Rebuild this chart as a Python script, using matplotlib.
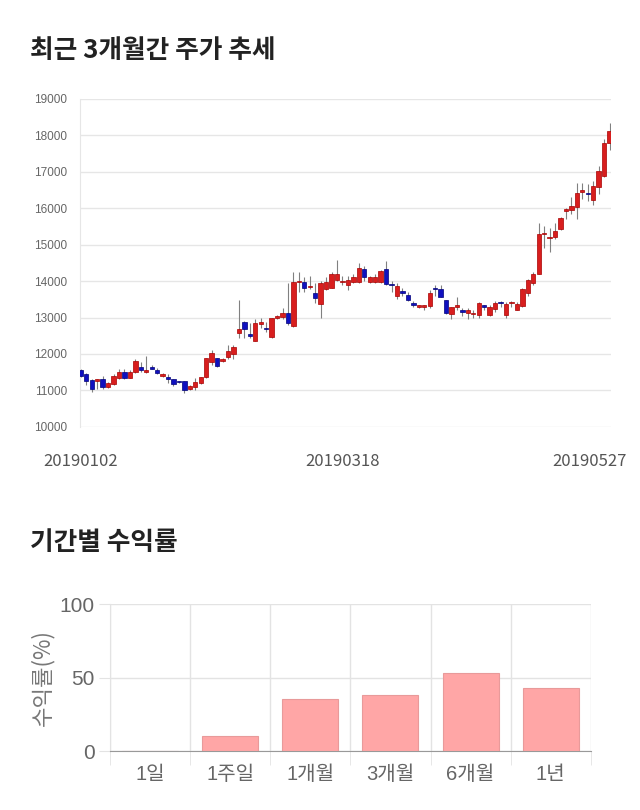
import matplotlib
matplotlib.use("Agg")
import matplotlib.pyplot as plt
import matplotlib.transforms as mtransforms
import numpy as np

plt.rcParams['font.family'] = ['Noto Sans CJK KR', 'DejaVu Sans']
ARIAL = ['Liberation Sans', 'Noto Sans CJK KR']

# candle data (open / high / low / close), 2019-01-02 .. 2019-05-27
opens = [11550, 11450, 11280, 11250, 11300, 11100, 11180, 11350, 11500, 11350,
         11500, 11650, 11500, 11650, 11550, 11400, 11380, 11300, 11260, 11250,
         11040, 11100, 11200, 11370, 11780, 11890, 11800, 11920, 12000, 12580,
         12880, 12550, 12360, 12830, 12720, 12470, 12990, 13020, 13130,
         12770, 13970, 13980, 13840, 13680, 13380, 13790, 13810, 14030, 13980,
         13900, 13980, 13980, 14330, 13980, 13980, 13980, 14330, 13920,
         13600, 13730, 13620, 13400, 13290, 13290, 13320, 13810, 13780, 13480,
         13100, 13300, 13210, 13130, 13100, 13070, 13330, 13070, 13230, 13420,
         13070, 13400, 13210, 13320, 13680, 13950, 14200, 15300, 15190, 15220,
         15430, 15930, 15950, 16040, 16450, 16420, 16230, 16590, 16890, 17790]
highs = [11600, 11480, 11300, 11320, 11400, 11220, 11450, 11600, 11600, 11560,
         11850, 11780, 11950, 11700, 11620, 11480, 11450, 11320, 11270, 11260,
         11150, 11330, 11380, 11900, 12100, 11900, 11880, 12250, 12250, 13480,
         12900, 12850, 12950, 13000, 12880, 13000, 13080, 13250, 13950,
         14250, 14250, 14100, 14150, 13950, 14000, 14100, 14250, 14580, 14150,
         14150, 14200, 14500, 14400, 14150, 14200, 14300, 14550, 14000,
         13950, 13800, 13700, 13450, 13350, 13350, 13750, 13900, 13900, 13480,
         13300, 13550, 13250, 13250, 13200, 13420, 13350, 13350, 13450, 13450,
         13420, 13450, 13420, 13800, 14050, 14250, 15600, 15500, 15450, 15600,
         15750, 16000, 16300, 16700, 16700, 16650, 16750, 17150, 17900, 18350]
lows = [11380, 11150, 10950, 11050, 11050, 11080, 11150, 11320, 11320, 11330,
        11480, 11500, 11480, 11580, 11450, 11380, 11200, 11130, 11200, 10920,
        11000, 11000, 11180, 11350, 11700, 11650, 11780, 11850, 11850, 12450,
        12450, 12450, 12350, 12700, 12600, 12450, 12950, 12950, 12800,
        12750, 13700, 13700, 13780, 13400, 12990, 13750, 13800, 14000, 13900,
        13750, 13950, 13950, 14000, 13950, 13950, 13950, 13900, 13700,
        13500, 13600, 13450, 13300, 13250, 13200, 13250, 13600, 13550, 13100,
        12950, 13200, 13050, 12950, 13000, 13000, 13200, 13050, 13150, 13300,
        13000, 13300, 13200, 13300, 13600, 13900, 14200, 14900, 14800, 15150,
        15400, 15700, 15850, 15700, 16250, 16200, 16100, 16400, 16850, 17600]
closes = [11400, 11250, 11050, 11300, 11100, 11200, 11400, 11500, 11350, 11500,
          11800, 11550, 11550, 11600, 11480, 11440, 11320, 11180, 11220, 11000,
          11120, 11230, 11370, 11890, 12030, 11670, 11850, 12080, 12200, 12690,
          12690, 12500, 12850, 12880, 12690, 12990, 13050, 13130, 12850,
          13980, 13990, 13810, 13870, 13540, 13950, 13980, 14200, 14200, 14000,
          14030, 14110, 14360, 14110, 14110, 14110, 14280, 13920, 13880,
          13870, 13680, 13480, 13350, 13330, 13330, 13680, 13780, 13560, 13130,
          13290, 13350, 13150, 13210, 13110, 13400, 13290, 13290, 13400, 13400,
          13380, 13410, 13380, 13780, 14030, 14200, 15300, 15310, 15200, 15380,
          15730, 15980, 16060, 16420, 16500, 16390, 16620, 17030, 17790, 18120]
date_labels = ['20190102', '20190318', '20190527']
date_idx = [0, 48, 97]

periods = ['1일', '1주일', '1개월', '3개월', '6개월', '1년']
returns = [0.0, 10.2, 35.5, 38.0, 53.4, 43.0]

fig = plt.figure(figsize=(6.4, 8.1), dpi=100)

# ---- candle chart
ax = fig.add_axes([0.125, 0.473, 0.83, 0.405])
o = np.array(opens); h = np.array(highs); l = np.array(lows); c = np.array(closes)
x = np.arange(len(o))
up = c >= o
col = np.where(up, '#d81e1e', '#1010c0')
edge = np.where(up, '#a80000', '#000078')
ax.vlines(x, l, h, color='#808080', linewidth=0.8, zorder=2)
body = np.maximum(np.abs(c - o), 30)
ax.bar(x, body, bottom=np.minimum(o, c), width=0.8, color=col,
       edgecolor=edge, linewidth=0.5, zorder=3)

ax.set_ylim(10000, 19000)
ax.set_xlim(-0.15, 97.3)
ax.set_yticks(range(10000, 19001, 1000))
ax.yaxis.grid(True, color='#e6e6e6', linewidth=1)
ax.set_axisbelow(True)
for s in ['top', 'right', 'bottom']:
    ax.spines[s].set_visible(False)
ax.spines['left'].set_color('#e6e6e6')
ax.tick_params(axis='y', length=0, pad=9, labelsize=8.5, labelcolor='#666666')
ax.tick_params(axis='x', length=0, pad=19, labelsize=12, labelcolor='#555555')
for t in ax.get_yticklabels():
    t.set_family(ARIAL)
ax.set_xticks(date_idx)
ax.set_xticklabels(date_labels)
last = ax.get_xticklabels()[-1]
last.set_transform(last.get_transform() +
                   mtransforms.ScaledTranslation(-0.2, 0, fig.dpi_scale_trans))

fig.text(30 / 640, 1 - 50 / 810, '최근 3개월간 주가 추세', fontsize=18.5,
         fontweight='bold', color='#222222', va='center', ha='left')
fig.text(30 / 640, 1 - 543 / 810, '기간별 수익률', fontsize=18.5,
         fontweight='bold', color='#222222', va='center', ha='left')

# ---- returns chart
ax2 = fig.add_axes([0.172, 0.0728, 0.751, 0.1815])
ax2.bar(np.arange(len(periods)), returns, width=0.7, color='#ffa6a6',
        edgecolor='#e89a9a', linewidth=0.8, zorder=3)
ax2.set_xlim(-0.5, len(periods) - 0.5)
ax2.set_ylim(0, 100)
ax2.set_yticks([0, 50, 100])
ax2.set_xticks(np.arange(len(periods)))
ax2.set_xticklabels(periods)
ax2.set_xticks(np.arange(-0.5, len(periods)), minor=True)
ax2.xaxis.grid(True, which='minor', color='#e3e3e3', linewidth=1)
ax2.yaxis.grid(True, color='#e3e3e3', linewidth=1)
ax2.set_axisbelow(True)
ax2.tick_params(axis='x', which='major', length=0, pad=10, labelsize=14.5,
                labelcolor='#666666')
ax2.tick_params(axis='x', which='minor', length=10, color='#e3e3e3')
ax2.tick_params(axis='y', length=8, color='#e3e3e3', pad=3, labelsize=15,
                labelcolor='#666666')
for t in ax2.get_yticklabels() + ax2.get_xticklabels():
    t.set_family(ARIAL)
for s in ['top', 'right']:
    ax2.spines[s].set_visible(False)
ax2.spines['left'].set_color('#e3e3e3')
ax2.spines['bottom'].set_color('#999999')
ax2.set_ylabel('수익률(%)', fontsize=16, color='#777777', labelpad=4)

fig.savefig('out.png', dpi=100, facecolor='white')
